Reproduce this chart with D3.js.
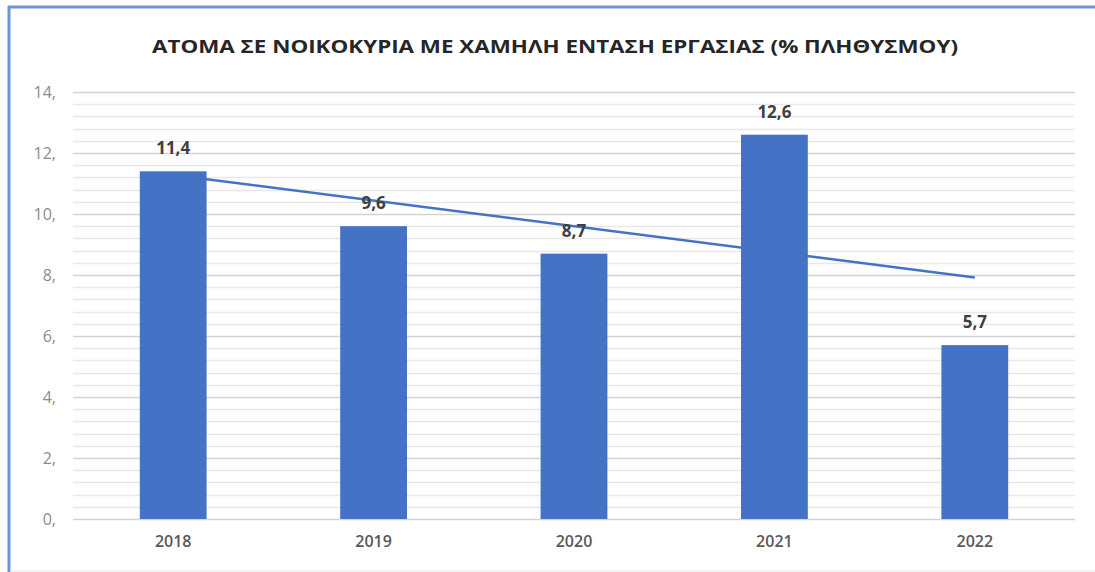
<!DOCTYPE html>
<html><head><meta charset="utf-8">
<script src="https://cdn.jsdelivr.net/npm/d3@7"></script>
<style>body{margin:0;background:#fff}svg{display:block}</style>
</head><body>
<svg id="c" width="1095" height="572"></svg>
<script>
const title = "ΑΤΟΜΑ ΣΕ ΝΟΙΚΟΚΥΡΙΑ ΜΕ ΧΑΜΗΛΗ ΕΝΤΑΣΗ ΕΡΓΑΣΙΑΣ (% ΠΛΗΘΥΣΜΟΥ)";
const categories = ["2018", "2019", "2020", "2021", "2022"];
const values = [11.4, 9.6, 8.7, 12.6, 5.7];
const valueLabels = ["11,4", "9,6", "8,7", "12,6", "5,7"];
const yTicks = [0, 2, 4, 6, 8, 10, 12, 14];
const yTickLabels = ["0,", "2,", "4,", "6,", "8,", "10,", "12,", "14,"];
const minorStep = 0.4;

const svg = d3.select("#c");
const W = 1095, H = 572;
const m = {left: 73, right: 1075, top: 92, bottom: 519};

// frame
svg.append("line").attr("x1", 9).attr("x2", 9).attr("y1", 6).attr("y2", H).attr("stroke", "#6f93d6").attr("stroke-width", 3);
svg.append("line").attr("x1", 8).attr("x2", W).attr("y1", 7).attr("y2", 7).attr("stroke", "#6f93d6").attr("stroke-width", 3);
svg.append("line").attr("x1", 10).attr("x2", W).attr("y1", 571).attr("y2", 571).attr("stroke", "#e6e6e6").attr("stroke-width", 1);

const x = d3.scaleBand().domain(categories).range([m.left, m.right]).paddingInner(0.6667).paddingOuter(0.3333);
const y = d3.scaleLinear().domain([0, 14]).range([m.bottom, m.top]);

// minor gridlines
const minor = d3.range(0, 14.0001, minorStep).filter(v => Math.abs(v/2 - Math.round(v/2)) > 1e-6);
svg.append("g").selectAll("line").data(minor).join("line")
  .attr("x1", m.left).attr("x2", m.right)
  .attr("y1", d => Math.round(y(d)) + 0.5).attr("y2", d => Math.round(y(d)) + 0.5)
  .attr("stroke", "#e8e8e8").attr("stroke-width", 1.5);
// major gridlines
svg.append("g").selectAll("line").data(yTicks).join("line")
  .attr("x1", m.left).attr("x2", m.right)
  .attr("y1", d => Math.round(y(d)) + 0.5).attr("y2", d => Math.round(y(d)) + 0.5)
  .attr("stroke", "#d4d4d4").attr("stroke-width", 1.5);

// y axis labels
const yAxis = d3.axisLeft(y).tickValues(yTicks).tickSize(0).tickPadding(0)
  .tickFormat((d, i) => yTickLabels[i]);
const ya = svg.append("g").attr("transform", "translate(56,0)").call(yAxis);
ya.select(".domain").remove();
ya.selectAll("text").attr("fill", "#8c8c8c").attr("font-family", "'Open Sans', sans-serif").attr("font-size", 16);

// x axis labels
const xAxis = d3.axisBottom(x).tickSize(0).tickPadding(0);
const xa = svg.append("g").attr("transform", "translate(0,536)").call(xAxis);
xa.select(".domain").remove();
xa.selectAll("text").attr("fill", "#595959").attr("font-family", "'Open Sans', sans-serif").attr("font-size", 16).attr("font-weight", 600);

// bars
svg.append("g").selectAll("rect").data(values).join("rect")
  .attr("x", (d, i) => x(categories[i]))
  .attr("width", x.bandwidth())
  .attr("y", d => y(d))
  .attr("height", d => y(0) - y(d))
  .attr("fill", "#4472c4");

// linear trendline (least squares over the data)
const n = values.length;
const xs = d3.range(n);
const mx = d3.mean(xs), my = d3.mean(values);
const slope = d3.sum(xs, i => (i - mx) * (values[i] - my)) / d3.sum(xs, i => (i - mx) ** 2);
const icpt = my - slope * mx;
const trend = [0, n - 1].map(i => [x(categories[i]) + x.bandwidth()/2, y(icpt + slope * i)]);
svg.append("path").attr("d", d3.line()(trend)).attr("stroke", "#4472c4").attr("stroke-width", 2.5).attr("fill", "none");

// data labels
svg.append("g").selectAll("text").data(values).join("text")
  .attr("x", (d, i) => x(categories[i]) + x.bandwidth()/2)
  .attr("y", d => y(d) - 17)
  .attr("text-anchor", "middle")
  .attr("fill", "#404040").attr("font-family", "'Open Sans', sans-serif").attr("font-size", 17).attr("font-weight", 700)
  .text((d, i) => valueLabels[i]);

// title
svg.append("text").attr("x", 555).attr("y", 53).attr("text-anchor", "middle")
  .attr("fill", "#262626").attr("font-family", "'Open Sans', sans-serif").attr("font-size", 17).attr("font-weight", 700)
  .attr("textLength", 806).attr("lengthAdjust", "spacingAndGlyphs")
  .text(title);
</script>
</body></html>
